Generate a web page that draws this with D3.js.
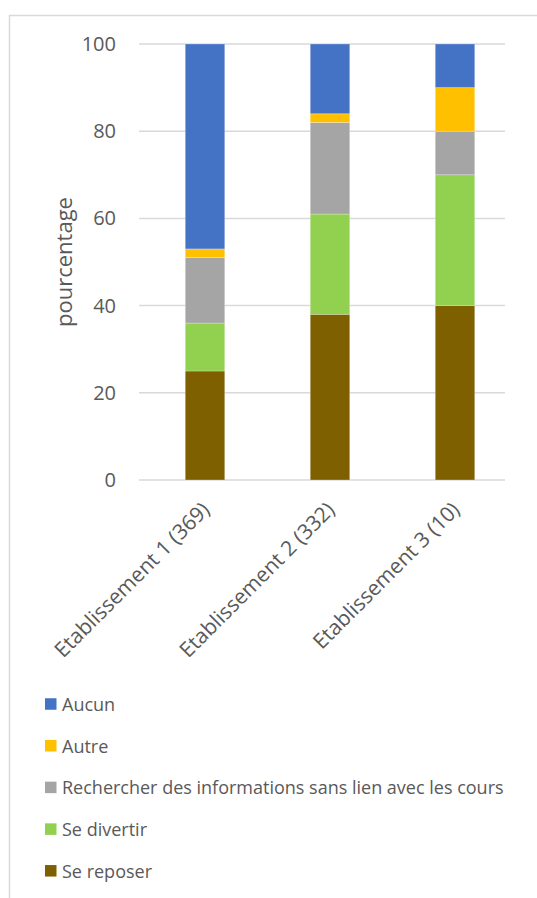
<!DOCTYPE html>
<html><head><meta charset="utf-8">
<script src="https://cdn.jsdelivr.net/npm/d3@7"></script>
<style>body{margin:0;background:#fff}svg{display:block}text{font-family:"Open Sans",sans-serif;fill:#595959}</style>
</head><body>
<svg id="c" width="537" height="898"></svg>
<script>
const categories = ["Etablissement 1 (369)", "Etablissement 2 (332)", "Etablissement 3 (10)"];
const seriesNames = ["Se reposer", "Se divertir", "Rechercher des informations sans lien avec les cours", "Autre", "Aucun"];
const seReposer   = [25, 38, 40];
const seDivertir  = [11, 23, 30];
const rechercher  = [15, 21, 10];
const autre       = [2, 2, 10];
const aucun       = [47, 16, 10];
const colors = ["#7f6000", "#92d050", "#a5a5a5", "#ffc000", "#4472c4"];
const yTicks = [0, 20, 40, 60, 80, 100];

const svg = d3.select("#c");
svg.append("rect").attr("x",9.5).attr("y",15.5).attr("width",700).attr("height",1000)
  .attr("fill","none").attr("stroke","#d9d9d9").attr("stroke-width",1.5);

const y = d3.scaleLinear().domain([0,100]).range([480,44]);
const x = d3.scaleBand().domain(categories).range([142.5,517.5]).paddingInner(0.68).paddingOuter(0.34);

svg.append("g").selectAll("line").data(yTicks).join("line")
  .attr("x1",139).attr("x2",505).attr("y1",d=>y(d)).attr("y2",d=>y(d))
  .attr("stroke","#d9d9d9").attr("stroke-width",1.5);

const yAxis = svg.append("g").attr("transform","translate(120,0)")
  .call(d3.axisLeft(y).tickValues(yTicks).tickSize(0).tickPadding(4));
yAxis.select(".domain").remove();
yAxis.selectAll("text").style("font-size","20px").attr("fill","#595959").style("font-family","'Open Sans',sans-serif");

const table = categories.map((c,i)=>{
  const v=[seReposer[i],seDivertir[i],rechercher[i],autre[i],aucun[i]];
  const o={cat:c}; seriesNames.forEach((s,k)=>o[s]=v[k]); return o;});
const stacked = d3.stack().keys(seriesNames)(table);
const bw = 39.5;
svg.append("g").selectAll("g").data(stacked).join("g").attr("fill",(d,i)=>colors[i])
  .selectAll("rect").data(d=>d).join("rect")
  .attr("x",d=>x(d.data.cat)+x.bandwidth()/2-bw/2).attr("width",bw)
  .attr("y",d=>y(d[1])).attr("height",d=>y(d[0])-y(d[1]))
  .attr("stroke","#ffffff").attr("stroke-opacity",0.35).attr("stroke-width",0.75);

const xAxis = svg.append("g").attr("transform","translate(0,480)")
  .call(d3.axisBottom(x).tickSize(0).tickPadding(0));
xAxis.select(".domain").remove();
xAxis.selectAll("text").style("font-size","21px").style("font-family","'Open Sans',sans-serif")
  .attr("fill","#595959").attr("text-anchor","end").attr("dy",null).attr("y",0)
  .attr("transform","translate(6,31) rotate(-45)");

svg.append("text").attr("transform","translate(72,262) rotate(-90)").attr("text-anchor","middle")
  .style("font-size","22px").text("pourcentage");

const legendOrder = [4,3,2,1,0];
const lg = svg.append("g");
legendOrder.forEach((k,j)=>{
  const yy = 704 + j*41.7;
  lg.append("rect").attr("x",45).attr("y",yy-5.75).attr("width",11.5).attr("height",11.5).attr("fill",colors[k]);
  lg.append("text").attr("x",62).attr("y",yy).attr("dy","0.38em").style("font-size","18px").text(seriesNames[k]);
});
</script>
</body></html>
